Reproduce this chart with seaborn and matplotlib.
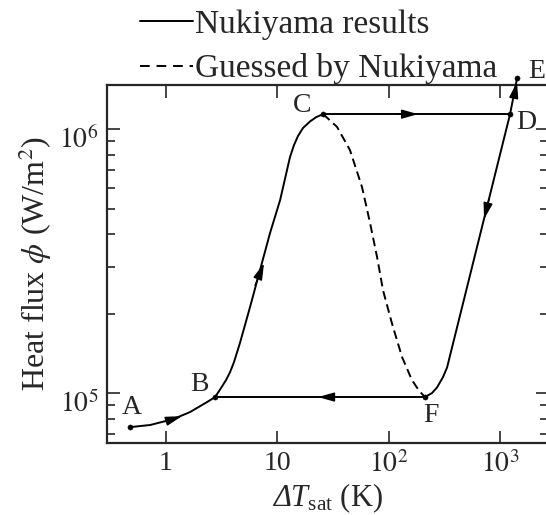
import numpy as np
import pandas as pd
import matplotlib
matplotlib.use('Agg')
import matplotlib.pyplot as plt
import matplotlib.transforms as mtransforms
from matplotlib.lines import Line2D
import seaborn as sns

# values
abc_dT = [0.475, 0.72, 1.16, 1.64, 2.34, 2.76, 3.12, 3.46, 3.76, 4.08, 4.62, 5.69, 7.0, 8.6, 10.6,
          13.0, 14.1, 15.3, 17.0, 19.7, 22.3, 25.8]
abc_q = [7.43e4, 7.57e4, 7.97e4, 8.47e4, 9.25e4, 9.66e4, 1.045e5, 1.12e5, 1.20e5, 1.31e5, 1.55e5,
         2.12e5, 2.93e5, 4.04e5, 5.39e5, 7.84e5, 8.69e5, 9.40e5, 1.01e6, 1.07e6, 1.11e6, 1.14e6]
cd_dT = [25.8, 1233]
cd_q = [1.14e6, 1.14e6]
de_dT = [1233, 1425]
de_q = [1.14e6, 1.56e6]
df_dT = [1233, 335, 308, 272, 245, 212]
df_q = [1.14e6, 1.25e5, 1.15e5, 1.05e5, 1.0e5, 9.66e4]
fb_dT = [212, 2.76]
fb_q = [9.66e4, 9.66e4]
guess_dT = [25.8, 34.4, 45.0, 57.7, 68.1, 78.7, 89.1, 107, 132, 162, 188, 212]
guess_q = [1.14e6, 1.02e6, 8.32e5, 6.03e5, 4.41e5, 3.28e5, 2.45e5, 1.84e5, 1.37e5, 1.12e5, 1.02e5, 9.66e4]

pt_names = ['A', 'B', 'C', 'D', 'E', 'F']
pt_dT = [0.475, 2.76, 25.8, 1233, 1425, 212]
pt_q = [7.43e4, 9.66e4, 1.14e6, 1.14e6, 1.56e6, 9.66e4]
# label offsets in points
pt_offsets = [(1, 14), (-11, 9), (-15, 6), (12, -6), (8, 5), (4, -13)]

# arrows (tail -> tip)
arrow_tail = [(0.98, 7.80e4), (6.31, 2.56e5), (121, 1.14e6), (798, 5.43e5), (32.3, 9.66e4), (1339, 1.33e6)]
arrow_tip = [(1.39, 8.18e4), (7.59, 3.10e5), (184, 1.14e6), (720, 4.56e5), (23.2, 9.66e4), (1425, 1.51e6)]

x_ticks = [1, 10, 100, 1000]
x_ticklabels = ['1', '10', '$10^2$', '$10^3$']
y_ticks = [1e5, 1e6]
y_ticklabels = ['$10^5$', '$10^6$']

sns.set_style('ticks')
plt.rcParams['font.family'] = ['Liberation Serif', 'DejaVu Serif']
plt.rcParams['mathtext.fontset'] = 'stix'
# custom math fonts, used only by the x label (italic Delta)
plt.rcParams['mathtext.rm'] = 'Liberation Serif'
plt.rcParams['mathtext.it'] = 'Liberation Serif:italic'
plt.rcParams['mathtext.sf'] = 'Liberation Serif:italic'

fig = plt.figure(figsize=(5.46, 5.15), dpi=100)
ax = fig.add_axes([107 / 546, 1 - 443 / 515, 441 / 546, 358 / 515])
ax.set_xscale('log')
ax.set_yscale('log')

lw = 1.4
sns.lineplot(x=abc_dT, y=abc_q, sort=False, color='black', lw=lw, ax=ax)
sns.lineplot(x=cd_dT, y=cd_q, sort=False, color='black', lw=lw, ax=ax)
sns.lineplot(x=df_dT, y=df_q, sort=False, color='black', lw=lw, ax=ax)
sns.lineplot(x=fb_dT, y=fb_q, sort=False, color='black', lw=lw, ax=ax)
sns.lineplot(x=de_dT, y=de_q, sort=False, color='black', lw=lw, ax=ax, clip_on=False)
sns.lineplot(x=guess_dT, y=guess_q, sort=False, color='black', lw=lw, ax=ax)
ax.lines[-1].set_dashes((4.5, 2.5))

sns.scatterplot(x=pt_dT, y=pt_q, s=14, color='black', edgecolor='black', ax=ax, clip_on=False, zorder=5)

for tail, tip in zip(arrow_tail, arrow_tip):
    ax.annotate('', xy=tip, xytext=tail, annotation_clip=False,
                arrowprops=dict(arrowstyle='-|>,head_length=1.0,head_width=0.28', color='black',
                                lw=1.0, shrinkA=0, shrinkB=0, mutation_scale=10))

for name, x, y, off in zip(pt_names, pt_dT, pt_q, pt_offsets):
    ax.annotate(name, xy=(x, y), xytext=off, textcoords='offset points', fontsize=20,
                ha='center' if name != 'E' else 'left', va='center', annotation_clip=False)

ax.set_xlim(0.295, 2703)
ax.set_ylim(6.47e4, 1.47e6)
ax.set_xticks(x_ticks)
ax.set_xticklabels(x_ticklabels)
ax.xaxis.set_minor_locator(matplotlib.ticker.NullLocator())
ax.set_yticks(y_ticks)
ax.set_yticklabels(y_ticklabels)
ax.tick_params(which='both', direction='in', top=True, right=True, width=1.2, labelsize=20)
ax.tick_params(which='major', length=9, pad=6)
ax.tick_params(which='minor', length=5.5)
for sp in ax.spines.values():
    sp.set_linewidth(1.6)

# the scanned y tick labels sit a little below their ticks
shift = mtransforms.ScaledTranslation(0, -6 / 72, fig.dpi_scale_trans)
for lab in ax.get_yticklabels():
    lab.set_transform(lab.get_transform() + shift)

ax.set_xlabel(r'$\mathsf{\Delta}T_{\mathrm{sat}}$ (K)', fontsize=22, labelpad=2,
              math_fontfamily='custom')
ax.set_ylabel(r'Heat flux $\phi$ (W/m$^2$)', fontsize=23, labelpad=4)

handles = [Line2D([], [], color='black', lw=lw),
           Line2D([], [], color='black', lw=lw, dashes=(5, 3.5))]
fig.legend(handles, ['Nukiyama results', 'Guessed by Nukiyama'], loc='upper left',
           bbox_to_anchor=(140 / 546, 1 - 9 / 515), frameon=False, fontsize=24,
           handlelength=1.6, handletextpad=0.05, labelspacing=0.42, borderpad=0, borderaxespad=0)

fig.savefig('out.png', dpi=100)
